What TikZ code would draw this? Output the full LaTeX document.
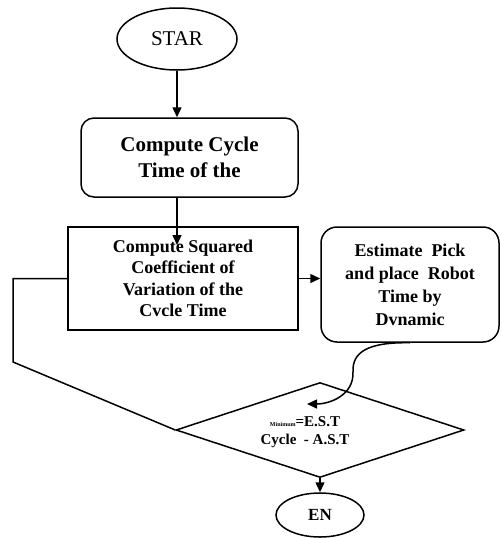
\documentclass[tikz,border=0pt]{standalone}
\usepackage{fontspec}
\setmainfont{Liberation Serif}
\usetikzlibrary{shapes.geometric,arrows.meta}
\begin{document}
\begin{tikzpicture}[x=1pt,y=-1pt,
  line width=1.5pt,
  arr/.style={-{Triangle[length=10pt,width=9pt]}},
  term/.style={draw,ellipse,inner sep=0pt},
  rbox/.style={draw,rectangle,rounded corners=13pt,align=center,inner sep=0pt},
  sbox/.style={draw,rectangle,align=center,inner sep=0pt},
  dec/.style={draw,diamond,inner sep=0pt,aspect=3}]
\useasboundingbox (0,0) rectangle (501,538);
\node[term,minimum width=120pt,minimum height=62pt,font=\fontsize{21}{24}\selectfont] (star) at (177,39) {STAR};
\node[rbox,minimum width=217pt,minimum height=79pt,font=\fontsize{21}{26}\selectfont\bfseries] (box1) at (189.5,157.5) {Compute Cycle\\Time of the};
\node[sbox,minimum width=230pt,minimum height=103pt,font=\fontsize{18}{21.5}\selectfont\bfseries] (box2) at (183,278.5) {Compute Squared\\Coefficient of\\Variation of the\\Cvcle Time};
\node[rbox,rounded corners=16pt,minimum width=178pt,minimum height=115pt,font=\fontsize{18}{23}\selectfont\bfseries] (box3) at (410,284.5) {Estimate\ \ Pick\\and place\ \ Robot\\Time by\\Dvnamic};
\node[dec,minimum width=288pt,minimum height=95pt] (dia) at (320,430) {};
\node[align=center,inner sep=0pt,font=\fontsize{15}{18}\selectfont\bfseries] (dtext) at (305,432) {{\fontsize{6}{6}\selectfont Minimum}=E.S.T\\Cycle\ \ - A.S.T};
\node[term,minimum width=88pt,minimum height=44pt,font=\fontsize{17}{20}\selectfont\bfseries] (en) at (320,515) {EN};
\coordinate (a2) at (177,245);
\coordinate (lp1) at (13,278.5);
\coordinate (lp2) at (13,362);
\coordinate (cur) at (307,404);
\draw[arr] (star.south) -- (star |- box1.north);
\draw[arr] (star |- box1.south) -- (a2);
\draw[arr] (box2.east) -- (box2.east -| box3.west);
\draw (box2.west) -- (lp1) -- (lp2) -- (dia.west);
\draw[arr] (box3.south) .. controls (368,342) and (352,352) .. (353,372) .. controls (354,395) and (330,404) .. (cur);
\draw[arr] (dia.south) -- (en.north);
\end{tikzpicture}
\end{document}
